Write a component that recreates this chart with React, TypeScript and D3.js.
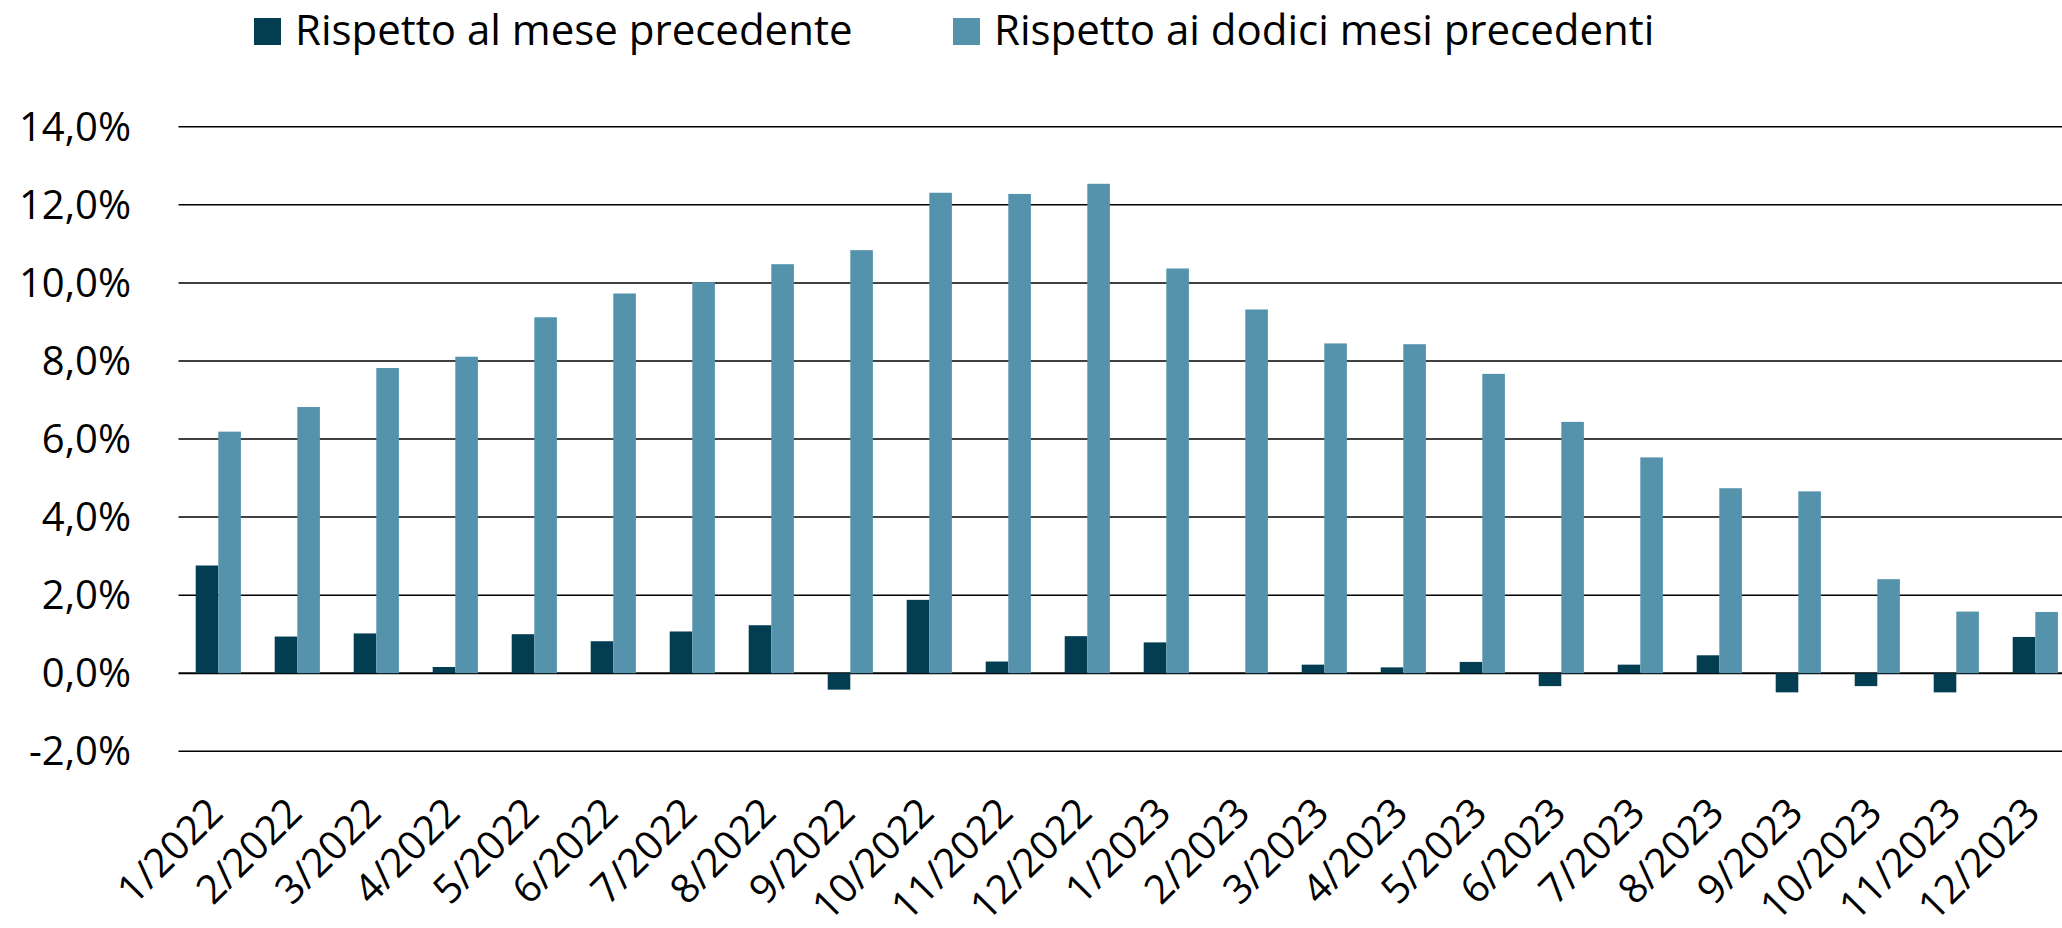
import React, { useRef, useEffect } from "react";
import * as d3 from "d3";

const months = [
  "1/2022", "2/2022", "3/2022", "4/2022", "5/2022", "6/2022",
  "7/2022", "8/2022", "9/2022", "10/2022", "11/2022", "12/2022",
  "1/2023", "2/2023", "3/2023", "4/2023", "5/2023", "6/2023",
  "7/2023", "8/2023", "9/2023", "10/2023", "11/2023", "12/2023",
];

// variazione rispetto al mese precedente (%)
const monthly = [
  2.76, 0.94, 1.02, 0.16, 1.0, 0.82, 1.07, 1.23, -0.42, 1.88, 0.3, 0.95,
  0.79, 0.0, 0.22, 0.15, 0.29, -0.33, 0.22, 0.46, -0.49, -0.33, -0.49, 0.93,
];

// variazione rispetto ai dodici mesi precedenti (%)
const yearly = [
  6.19, 6.82, 7.82, 8.11, 9.12, 9.73, 10.02, 10.48, 10.84, 12.31, 12.28, 12.54,
  10.37, 9.32, 8.45, 8.43, 7.67, 6.44, 5.53, 4.74, 4.66, 2.41, 1.58, 1.57,
];

const seriesNames = ["Rispetto al mese precedente", "Rispetto ai dodici mesi precedenti"];
const yTicks = [-2, 0, 2, 4, 6, 8, 10, 12, 14];

const colors = ["#033d52", "#5593ad"];
const font = "'Open Sans', 'Noto Sans', sans-serif";

const Chart = () => {
  const chartRef = useRef(null);

  useEffect(() => {
    if (!chartRef.current) return;

    const width = 2062;
    const height = 928;
    const svg = d3.select(chartRef.current);
    svg.selectAll("*").remove();

    const x = d3.scaleBand()
      .domain(months)
      .range([178.8, 2074.8])
      .paddingInner(0.428)
      .paddingOuter(0.214);

    const sub = d3.scaleBand()
      .domain(["m", "y"])
      .range([0, x.bandwidth()]);

    const y = d3.scaleLinear()
      .domain([-2, 14])
      .range([751.3, 126.8]);

    // gridlines
    svg.append("g")
      .selectAll("line")
      .data(yTicks)
      .enter()
      .append("line")
      .attr("x1", 178.5)
      .attr("x2", width)
      .attr("y1", d => y(d))
      .attr("y2", d => y(d))
      .attr("stroke", "#000")
      .attr("stroke-width", d => (d === 0 ? 2 : 1.5));

    // y labels
    svg.append("g")
      .selectAll("text")
      .data(yTicks)
      .enter()
      .append("text")
      .attr("x", 131)
      .attr("y", d => y(d) + 14)
      .attr("text-anchor", "end")
      .style("font-family", font)
      .style("font-size", "40px")
      .attr("fill", "#000")
      .text(d => d3.format(".1f")(d).replace("−", "-").replace(".", ",") + "%");

    // bars
    const groups = svg.append("g")
      .selectAll("g")
      .data(months)
      .enter()
      .append("g")
      .attr("transform", d => "translate(" + x(d) + ",0)");

    groups.append("rect")
      .attr("x", sub("m"))
      .attr("width", sub.bandwidth())
      .attr("y", (d, i) => y(Math.max(0, monthly[i])))
      .attr("height", (d, i) => Math.abs(y(monthly[i]) - y(0)))
      .attr("fill", colors[0]);

    groups.append("rect")
      .attr("x", sub("y"))
      .attr("width", sub.bandwidth())
      .attr("y", (d, i) => y(Math.max(0, yearly[i])))
      .attr("height", (d, i) => Math.abs(y(yearly[i]) - y(0)))
      .attr("fill", colors[1]);

    // x labels
    svg.append("g")
      .selectAll("text")
      .data(months)
      .enter()
      .append("text")
      .attr("transform", d => "translate(" + (x(d) + x.bandwidth() / 2 + 7) + ",815) rotate(-45)")
      .attr("text-anchor", "end")
      .style("font-family", font)
      .style("font-size", "40px")
      .attr("fill", "#000")
      .text(d => d);

    // legend
    const legendX = [254, 953];
    const legend = svg.append("g")
      .selectAll("g")
      .data(seriesNames)
      .enter()
      .append("g")
      .attr("transform", (d, i) => "translate(" + legendX[i] + ",0)");

    legend.append("rect")
      .attr("x", 0)
      .attr("y", 18)
      .attr("width", 27)
      .attr("height", 27)
      .attr("fill", (d, i) => colors[i]);

    legend.append("text")
      .attr("x", 41)
      .attr("y", 45)
      .style("font-family", font)
      .style("font-size", "42px")
      .attr("fill", "#000")
      .text(d => d);

    svg.attr("width", width).attr("height", height);
  }, []);

  return (
    <svg
      ref={chartRef}
      style={{ position: "absolute", left: 0, top: 0, display: "block", background: "#fff" }}
    ></svg>
  );
};

export default function App() {
  return <Chart />;
}
